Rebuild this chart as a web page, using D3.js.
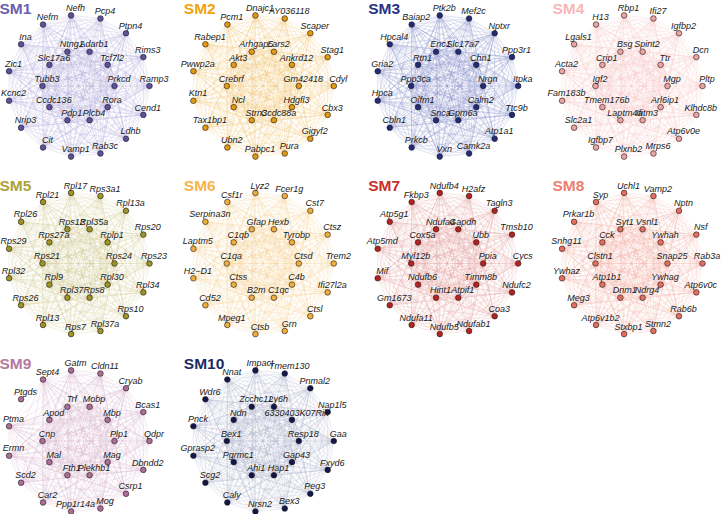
<!DOCTYPE html>
<html>
<head>
<meta charset="utf-8">
<script src="https://cdn.jsdelivr.net/npm/d3@7"></script>
<style>
  html, body { margin: 0; padding: 0; background: #ffffff; }
  svg { display: block; }
</style>
</head>
<body>
<svg id="chart" width="722" height="514"></svg>
<script>
// ---------------- DATA ----------------
const modules = ["SM1", "SM2", "SM3", "SM4", "SM5", "SM6", "SM7", "SM8", "SM9", "SM10"];

// outer ring genes, clockwise starting near the top
const outerGenes = [
  ["Nefh","Pcp4","Ptpn4","Rims3","Ramp3","Cend1","Ldhb","Rab3c","Vamp1","Cit","Nrip3","Kcnc2","Zic1","Ina","Nefm"],
  ["Dnajc1","AY036118","Scaper","Stag1","Cdyl","Cbx3","Gigyf2","Pura","Pabpc1","Ubn2","Tax1bp1","Ktn1","Pwwp2a","Rabep1","Pcm1"],
  ["Ptk2b","Mef2c","Nptxr","Ppp3r1","Itpka","Ttc9b","Atp1a1","Camk2a","Vxn","Prkcb","Cbln1","Hpca","Gria2","Hpcal4","Baiap2"],
  ["Rbp1","Ifi27","Igfbp2","Dcn","Pltp","Klhdc8b","Atp6v0e","Mrps6","Plxnb2","Igfbp7","Slc2a1","Fam183b","Acta2","Lgals1","H13"],
  ["Rpl17","Rps3a1","Rpl13a","Rps20","Rps23","Rpl34","Rps10","Rpl37a","Rps7","Rpl13","Rps26","Rpl32","Rps29","Rpl26","Rpl21"],
  ["Lyz2","Fcer1g","Cst7","Ctsz","Trem2","Ifi27l2a","Ctsl","Grn","Ctsb","Mpeg1","Cd52","H2\u2212D1","Laptm5","Serpina3n","Csf1r"],
  ["Ndufb4","H2afz","Tagln3","Tmsb10","Cycs","Ndufc2","Coa3","Ndufab1","Ndufb5","Ndufa11","Gm1673","Mif","Atp5md","Atp5g1","Fkbp3"],
  ["Uchl1","Vamp2","Nptn","Nsf","Rab3a","Atp6v0c","Rab6b","Stmn2","Stxbp1","Atp6v1b2","Meg3","Ywhaz","Snhg11","Prkar1b","Syp"],
  ["Gatm","Cldn11","Cryab","Bcas1","Qdpr","Dbndd2","Csrp1","Mog","Ppp1r14a","Car2","Scd2","Ermn","Ptma","Ptgds","Sept4"],
  ["Impact","Tmem130","Pnmal2","Nap1l5","Gaa","Fxyd6","Peg3","Bex3","Nrsn2","Caly","Scg2","Gprasp2","Pnck","Wdr6","Nnat"]
];

// inner ring genes, clockwise starting upper-left
const innerGenes = [
  ["Ntng1","Adarb1","Tcf7l2","Prkcd","Rora","Plcb4","Pdp1","Ccdc136","Tubb3","Slc17a6"],
  ["Arhgap5","Lars2","Ankrd12","Gm42418","Hdgfl3","Ccdc88a","Strn3","Ncl","Crebrf","Akt3"],
  ["Enc1","Slc17a7","Chn1","Nrgn","Calm2","Gpm6a","Snca","Olfm1","Ppp3ca","Rtn1"],
  ["Bsg","Spint2","Ttr","Mgp","Arl6ip1","Ifitm3","Laptm4a","Tmem176b","Igf2","Crip1"],
  ["Rps12","Rpl35a","Rplp1","Rps24","Rpl30","Rps8","Rpl37","Rpl9","Rps21","Rps27a"],
  ["Gfap","Hexb","Tyrobp","Ctsd","C4b","C1qc","B2m","Ctss","C1qa","C1qb"],
  ["Ndufa4","Gapdh","Ubb","Ppia","Timm8b","Atpif1","Hint1","Ndufb6","Myl12b","Cox5a"],
  ["Syt1","Vsnl1","Ywhah","Snap25","Ywhag","Ndrg4","Dnm1","Atp1b1","Clstn1","Cck"],
  ["Trf","Mobp","Mbp","Plp1","Mag","Plekhb1","Fth1","Mal","Cnp","Apod"],
  ["Zcchc12","Ly6h","6330403K07Rik","Resp18","Gap43","Hap1","Ahi1","Pgrmc1","Bex1","Ndn"]
];

// genes without any drawn edge
const isolatedGenes = ["Ptgds"];

const nodeColors  = ["#5c519f","#e39a12","#232b7a","#eea3a3","#9f9424","#f2ae3c","#b8231d","#e56f5f","#ad6e98","#15164a"];
const edgeColors  = ["#aaa5d8","#f4c46c","#8088c6","#f9c0c0","#cfc98a","#f8d08c","#e49b9b","#f2aaa0","#d3aac6","#a9abc8"];
const titleColors = ["#6a5fab","#f0a30a","#2c3286","#f8b6b6","#aca13a","#f6b54c","#c9312b","#ec7f70","#b5789f","#1c2a63"];

// ---------------- LAYOUT ----------------
const svg = d3.select("#chart");

const colScale = d3.scaleLinear().domain([0, 3]).range([78.5, 631.5]);
const rowScale = d3.scaleLinear().domain([0, 2]).range([86, 441]);
const outerR = 71, innerR = 36;

const outerAngle = d3.scaleLinear().domain([0, 15]).range([-6, 354]);
const innerAngle = d3.scaleLinear().domain([0, 10]).range([-18, 342]);

const rad = Math.PI / 180;

const moduleData = modules.map((name, i) => {
  const cx = colScale(i % 4), cy = rowScale(Math.floor(i / 4));
  const nodes = [];
  outerGenes[i].forEach((g, k) => {
    const a = outerAngle(k) * rad;
    nodes.push({ gene: g, x: cx + outerR * Math.sin(a), y: cy - outerR * Math.cos(a) });
  });
  innerGenes[i].forEach((g, k) => {
    const a = innerAngle(k) * rad;
    nodes.push({ gene: g, x: cx + innerR * Math.sin(a), y: cy - innerR * Math.cos(a) });
  });
  const linked = nodes.filter(n => !isolatedGenes.includes(n.gene));
  const edges = [];
  for (let a = 0; a < linked.length; a++)
    for (let b = a + 1; b < linked.length; b++)
      edges.push([linked[a], linked[b]]);
  return { name, i, cx, cy, nodes, edges };
});

const fontFam = "'Liberation Sans', Arial, Helvetica, sans-serif";

const g = svg.selectAll("g.module").data(moduleData).join("g").attr("class", "module");

// edges
g.append("g").selectAll("line")
  .data(d => d.edges.map(e => ({ e, i: d.i })))
  .join("line")
  .attr("x1", d => d.e[0].x).attr("y1", d => d.e[0].y)
  .attr("x2", d => d.e[1].x).attr("y2", d => d.e[1].y)
  .attr("stroke", d => edgeColors[d.i])
  .attr("stroke-width", 0.5)
  .attr("stroke-opacity", 0.5);

// nodes
g.append("g").selectAll("circle")
  .data(d => d.nodes.map(n => ({ n, i: d.i })))
  .join("circle")
  .attr("cx", d => d.n.x).attr("cy", d => d.n.y)
  .attr("r", 2.8)
  .attr("fill", d => nodeColors[d.i])
  .attr("stroke", "#1a1a1a")
  .attr("stroke-width", 0.6);

// labels
g.append("g").selectAll("text")
  .data(d => d.nodes.map(n => ({ n, i: d.i })))
  .join("text")
  .attr("x", d => d.n.x + 4.5)
  .attr("y", d => d.n.y - 4.3)
  .attr("text-anchor", "middle")
  .attr("font-family", fontFam)
  .attr("font-style", "italic")
  .attr("font-size", 9)
  .attr("fill", "#1a1a1a")
  .text(d => d.n.gene);

// titles
g.append("text")
  .attr("x", d => d.cx - 79)
  .attr("y", d => d.cy - 72.5)
  .attr("font-family", fontFam)
  .attr("font-weight", "bold")
  .attr("font-size", 15.5)
  .attr("fill", d => titleColors[d.i])
  .text(d => d.name);
</script>
</body>
</html>
